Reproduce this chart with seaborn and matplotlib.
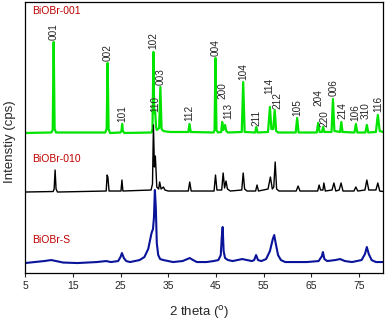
import matplotlib
matplotlib.use("Agg")
import matplotlib.pyplot as plt
import seaborn as sns
import pandas as pd

sns.set_theme(style="white")
plt.rcParams['font.family'] = ['Liberation Sans', 'DejaVu Sans']

# ---- data (2theta, intensity above own baseline, arbitrary units) ----
g_x = [5, 10.5, 10.8, 11.0, 11.2, 11.5, 21.8, 22.1, 22.3, 22.5, 22.8, 25.0, 25.2, 25.35, 25.5, 25.8,
       31.5, 31.7, 31.9, 32.05, 32.25, 32.45, 32.6, 33.1, 33.35, 33.6, 34.0, 34.5, 35.5, 39.2, 39.45, 39.7,
       44.5, 44.7, 44.9, 45.1, 45.4, 46.1, 46.3, 46.55, 46.9, 47.15, 47.5, 50.4, 50.7, 51.0, 53.2, 53.45, 53.7,
       55.9, 56.3, 56.6, 57.0, 57.3, 57.6, 58.0, 61.7, 62.0, 62.3, 66.1, 66.4, 66.7, 67.2, 67.45, 67.7,
       69.2, 69.5, 69.8, 71.0, 71.25, 71.5, 74.0, 74.3, 74.6, 76.3, 76.6, 76.9, 78.5, 78.9, 79.3, 80]
g_y = [0, 0.5, 3, 91, 4, 0.5, 0.5, 4, 70, 4, 0, 0.5, 2, 9, 2, 0,
       0.5, 4, 81, 20, 22, 6, 3, 5, 46, 4, 2, 1.5, 1, 1, 9, 1,
       0.5, 3, 75, 3, 0.5, 1, 11, 3, 8, 2, 0.5, 1, 51, 1, 0.5, 6, 0.5,
       1, 26, 4, 4, 23, 2, 0.5, 0.5, 15, 0.5, 0.5, 10, 1, 1, 6, 1,
       1, 34, 2, 1, 11, 1, 0.5, 9, 0.5, 0.5, 8, 0.5, 1, 18, 2, 1]

k_x = [5, 10.9, 11.1, 11.3, 11.5, 11.8, 22.0, 22.2, 22.35, 22.6, 25.1, 25.3, 25.5,
       31.4, 31.7, 31.9, 32.1, 32.3, 32.6, 33.0, 33.2, 33.5, 34.0, 34.3, 35.0, 39.2, 39.5, 39.8,
       44.6, 44.9, 45.2, 46.2, 46.5, 46.8, 47.1, 47.4, 48.0, 50.4, 50.7, 51.0, 51.5, 53.3, 53.6, 53.9,
       55.9, 56.4, 56.8, 57.1, 57.4, 57.7, 58.2, 61.8, 62.2, 62.6, 66.3, 66.6, 66.9, 67.4, 67.6, 67.9,
       69.3, 69.7, 70.1, 70.8, 71.2, 71.6, 73.9, 74.3, 74.7, 76.2, 76.6, 77.0, 78.5, 78.9, 79.3, 80]
k_y = [0, 0.5, 3, 22, 3, 0, 1, 17, 15, 1, 1, 12, 1,
       2, 8, 67, 25, 36, 5, 3, 10, 3, 5, 2, 1, 1, 10, 1,
       1, 17, 2, 2, 19, 4, 11, 3, 1, 2, 19, 3, 1, 1, 7, 1,
       3, 15, 3, 5, 30, 3, 1, 1, 6, 1, 1, 7, 2, 2, 9, 1,
       2, 9, 1, 2, 9, 1, 1, 5, 1, 2, 12, 2, 2, 9, 1, 0.5]

b_x = [5, 7, 9, 10.5, 11.5, 13, 16, 20, 22, 23, 24.5, 25.0, 25.3, 25.7, 26.2, 27, 28, 29, 30, 30.8,
       31.5, 31.8, 32.0, 32.2, 32.4, 32.6, 32.9, 33.3, 34, 35, 36, 38, 39.0, 39.5, 40.2, 41, 43, 44.5,
       45.5, 46.0, 46.2, 46.4, 46.6, 46.9, 47.5, 48.5, 49.5, 50.5, 51.5, 52.5, 53.0, 53.4, 53.8, 54.5,
       55.5, 56.3, 56.9, 57.2, 57.5, 58.0, 58.6, 59.5, 62, 64, 66.5, 67.2, 67.4, 67.7, 68.3, 70, 71, 72,
       73.5, 74.5, 75.5, 76.2, 76.6, 77.0, 77.6, 78.5, 80]
b_y = [0, 1, 2, 3, 2, 0.5, 0, 1, 2, 1, 2, 6, 10, 5, 2, 1, 2, 3, 6, 14,
       30, 34, 45, 73, 55, 20, 8, 4, 3, 2, 1, 2, 4, 5, 3, 1, 1, 2,
       3, 8, 25, 36, 12, 5, 3, 2, 3, 4, 3, 2, 3, 8, 3, 2,
       4, 12, 24, 28, 20, 8, 3, 1, 1, 1, 2, 7, 11, 4, 2, 3, 4, 2,
       1, 2, 3, 9, 16, 9, 3, 1, 1]

hkl_labels = ["001", "002", "101", "102", "110", "003", "112", "004", "200", "113", "104", "211",
              "114", "212", "105", "204", "220", "006", "214", "106", "310", "116"]
hkl_pos = [11.0, 22.3, 25.35, 31.9, 32.3, 33.4, 39.45, 44.9, 46.3, 47.6, 50.7, 53.4,
           56.1, 57.9, 62.0, 66.4, 67.8, 69.7, 71.4, 74.1, 76.4, 78.9]
hkl_base = [92, 71, 10, 83, 20, 47, 11, 76, 33, 13, 52, 6, 38, 23, 16, 26, 5, 36, 13, 11, 13, 20]

sample_names = ["BiOBr-001", "BiOBr-010", "BiOBr-S"]
offsets = [140, 81, 10]
colors = ["#00e400", "#000000", "#0a149a"]
widths = [1.6, 1.0, 1.5]

fig = plt.figure(figsize=(3.85, 3.22), dpi=100)
ax = fig.add_axes([0.065, 0.152, 0.93, 0.842])

series = [(g_x, g_y), (k_x, k_y), (b_x, b_y)]
for (xs, ys), off, c, lw in zip(series, offsets, colors, widths):
    df = pd.DataFrame({"theta": xs, "I": [v + off for v in ys]})
    sns.lineplot(data=df, x="theta", y="I", color=c, lw=lw, ax=ax, estimator=None, sort=False)

for lab, px, h in zip(hkl_labels, hkl_pos, hkl_base):
    ax.text(px, offsets[0] + h + 1, lab, rotation=90, ha="center", va="bottom", fontsize=7.2)

name_y = [262, 114, 33]
for name, ny in zip(sample_names, name_y):
    ax.text(6.4, ny, name, color="#c00000", fontsize=7.5, va="center", ha="left")

ax.set_xlim(5, 80)
ax.set_ylim(0, 271)
ax.set_xticks([5, 15, 25, 35, 45, 55, 65, 75])
ax.set_yticks([])
ax.tick_params(axis="x", direction="out", length=3, width=0.8, labelsize=7.5, pad=3, bottom=True)
for s in ax.spines.values():
    s.set_color("black")
    s.set_linewidth(0.9)
ax.set_xlabel("2 theta ($^{\\mathrm{o}}$)", fontsize=9.5)
ax.set_ylabel("Intenstiy (cps)", fontsize=9.5)
ax.xaxis.set_label_coords(0.486, -0.115)
ax.yaxis.set_label_coords(-0.026, 0.483)

fig.savefig("out.png", dpi=100)
